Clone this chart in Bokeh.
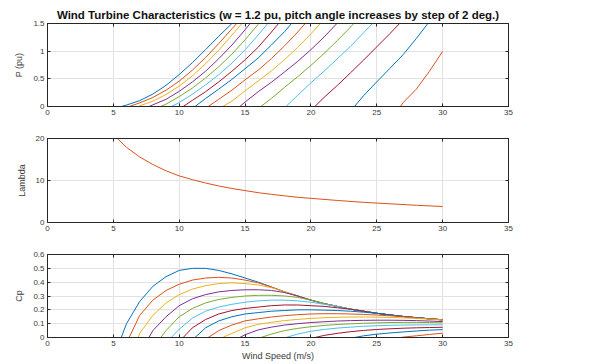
from bokeh.plotting import figure
from bokeh.layouts import column
from bokeh.models import Range1d, FixedTicker, LinearAxis
from bokeh.embed import file_html
from bokeh.resources import INLINE

# ---------------- data ----------------
pitch_deg = [0, 2, 4, 6, 8, 10, 12, 14, 16, 18, 20, 22, 24, 26, 28, 30]

# Cp curves: wind speed where the curve leaves zero, then values at integer speeds up to 30 m/s
cp_start = [5.6, 6.2, 6.9, 7.7, 8.6, 9.4, 10.3, 11.2, 12.2, 13.3, 14.6, 16.2, 18.1, 20.3, 23.3, 26.8]
cp_values = [
    [0.10, 0.26, 0.37, 0.44, 0.485, 0.50, 0.50, 0.485, 0.46, 0.43, 0.40, 0.365, 0.33, 0.30, 0.27,
     0.245, 0.225, 0.205, 0.19, 0.175, 0.163, 0.152, 0.143, 0.135, 0.128],
    [0.16, 0.27, 0.34, 0.385, 0.415, 0.43, 0.435, 0.43, 0.415, 0.395, 0.365, 0.33, 0.30, 0.27,
     0.245, 0.225, 0.205, 0.19, 0.175, 0.163, 0.152, 0.143, 0.135, 0.128],
    [0.03, 0.16, 0.25, 0.31, 0.35, 0.375, 0.39, 0.395, 0.39, 0.38, 0.36, 0.33, 0.30, 0.27,
     0.245, 0.225, 0.205, 0.19, 0.175, 0.163, 0.152, 0.143, 0.135, 0.128],
    [0.05, 0.15, 0.23, 0.28, 0.31, 0.33, 0.34, 0.345, 0.345, 0.34, 0.325, 0.30, 0.27,
     0.245, 0.225, 0.205, 0.19, 0.175, 0.163, 0.152, 0.143, 0.135, 0.128],
    [0.05, 0.15, 0.21, 0.25, 0.275, 0.29, 0.30, 0.305, 0.305, 0.30, 0.29, 0.27,
     0.245, 0.225, 0.205, 0.19, 0.175, 0.163, 0.152, 0.143, 0.135, 0.128],
    [0.06, 0.14, 0.19, 0.22, 0.24, 0.255, 0.265, 0.27, 0.27, 0.265, 0.255, 0.24, 0.225,
     0.205, 0.19, 0.175, 0.163, 0.152, 0.143, 0.135, 0.128],
    [0.07, 0.13, 0.17, 0.195, 0.21, 0.22, 0.23, 0.235, 0.235, 0.23, 0.225, 0.215, 0.205,
     0.19, 0.175, 0.163, 0.152, 0.143, 0.135, 0.128],
    [0.07, 0.12, 0.15, 0.17, 0.18, 0.19, 0.195, 0.20, 0.20, 0.198, 0.195, 0.19, 0.183,
     0.175, 0.163, 0.152, 0.143, 0.135, 0.128],
    [0.05, 0.09, 0.12, 0.135, 0.148, 0.158, 0.165, 0.17, 0.172, 0.172, 0.17, 0.167, 0.162,
     0.157, 0.15, 0.142, 0.134, 0.127],
    [0.03, 0.07, 0.095, 0.11, 0.122, 0.131, 0.138, 0.143, 0.146, 0.148, 0.148, 0.147,
     0.145, 0.142, 0.138, 0.133, 0.126],
    [0.02, 0.055, 0.075, 0.09, 0.10, 0.108, 0.114, 0.119, 0.122, 0.124, 0.125, 0.125,
     0.124, 0.122, 0.119, 0.115],
    [0.025, 0.05, 0.066, 0.078, 0.087, 0.094, 0.099, 0.103, 0.106, 0.108, 0.109, 0.109,
     0.108, 0.106],
    [0.025, 0.045, 0.058, 0.068, 0.075, 0.081, 0.085, 0.088, 0.090, 0.091, 0.092, 0.092],
    [0.015, 0.03, 0.042, 0.051, 0.058, 0.063, 0.067, 0.070, 0.072, 0.074],
    [0.012, 0.024, 0.033, 0.040, 0.047, 0.053, 0.057],
    [0.003, 0.012, 0.022, 0.031],
]

# Power curves (pu): same start speeds, values at integer speeds until they leave the 1.5 pu frame
p_values = [
    [0.026, 0.106, 0.225, 0.382, 0.577, 0.792, 1.028, 1.268, 1.50, 1.727],
    [0.065, 0.164, 0.295, 0.458, 0.657, 0.884, 1.137, 1.404, 1.667],
    [0.012, 0.097, 0.217, 0.369, 0.554, 0.771, 1.019, 1.290, 1.566],
    [0.030, 0.130, 0.274, 0.444, 0.637, 0.863, 1.110, 1.386, 1.682],
    [0.043, 0.179, 0.333, 0.514, 0.719, 0.947, 1.205, 1.487, 1.783],
    [0.071, 0.222, 0.391, 0.575, 0.784, 1.024, 1.292, 1.578],
    [0.111, 0.267, 0.444, 0.637, 0.843, 1.072, 1.345, 1.631],
    [0.144, 0.314, 0.490, 0.683, 0.877, 1.111, 1.353, 1.632],
    [0.131, 0.294, 0.482, 0.658, 0.865, 1.097, 1.347, 1.618],
    [0.098, 0.281, 0.463, 0.643, 0.847, 1.069, 1.314, 1.576],
    [0.080, 0.268, 0.438, 0.625, 0.816, 1.028, 1.256, 1.508],
    [0.146, 0.347, 0.539, 0.743, 0.959, 1.191, 1.434, 1.694],
    [0.204, 0.428, 0.639, 0.862, 1.086, 1.332, 1.580],
    [0.165, 0.380, 0.608, 0.839, 1.078, 1.318, 1.569],
    [0.197, 0.446, 0.690, 0.937, 1.228, 1.538],
    [0.070, 0.313, 0.638, 0.996],
]

# Tip-speed ratio (identical for all pitch angles)
lambda_speed = [5.3, 6, 7, 8, 9, 10, 11, 12, 13, 14, 15, 16, 17, 18, 19, 20, 22, 24, 26, 28, 30]
lambda_values = [20, 17.9, 15.6, 13.8, 12.3, 11.1, 10.2, 9.4, 8.7, 8.1, 7.6, 7.1, 6.7, 6.35, 6.0,
                 5.75, 5.25, 4.8, 4.45, 4.1, 3.8]

x_ticks = [0, 5, 10, 15, 20, 25, 30, 35]
p_ticks = [0, 0.5, 1, 1.5]
p_tick_labels = ["0", "0.5", "1", "1.5"]
lambda_ticks = [0, 10, 20]
lambda_tick_labels = ["0", "10", "20"]
cp_ticks = [0, 0.1, 0.2, 0.3, 0.4, 0.5, 0.6]
cp_tick_labels = ["0", "0.1", "0.2", "0.3", "0.4", "0.5", "0.6"]

title_text = "Wind Turbine Characteristics (w = 1.2 pu, pitch angle increases by step of 2 deg.)"
colors = ["#0072BD", "#D95319", "#EDB120", "#7E2F8E", "#77AC30", "#4DBEEE", "#A2142F"]

FONT = "Liberation Sans"
AX = "#262626"
TXT = "#3a3a3a"
GRID = "#e2e2e2"


def speeds_for(start, n):
    first = int(start) + 1
    return [start] + [first + i for i in range(n)]


def mirror_axis(ticks):
    # tick marks only (box-style ticks on top / right edges), no labels drawn
    ax = LinearAxis(ticker=FixedTicker(ticks=ticks))
    ax.axis_line_color = AX
    ax.major_tick_line_color = AX
    ax.major_tick_in = 3
    ax.major_tick_out = 0
    ax.minor_tick_line_color = None
    ax.major_label_text_color = None
    ax.major_label_text_font_size = "0px"
    ax.major_label_standoff = 0
    return ax


def make_fig(height, top, bottom, yr, yticks, ylabels, ylabel, xlabel=None):
    p = figure(width=602, height=height, x_range=Range1d(0, 35), y_range=Range1d(*yr),
               output_backend="svg", toolbar_location=None,
               min_border_left=47, min_border_right=94,
               min_border_top=top, min_border_bottom=bottom,
               background_fill_color="white", border_fill_color="white")
    p.outline_line_color = AX
    p.outline_line_width = 1
    p.outline_line_alpha = 1.0
    p.xaxis.ticker = FixedTicker(ticks=x_ticks)
    p.yaxis.ticker = FixedTicker(ticks=yticks)
    p.yaxis.major_label_overrides = {t: l for t, l in zip(yticks, ylabels)}
    for ax in (p.xaxis[0], p.yaxis[0]):
        ax.axis_line_color = AX
        ax.major_tick_line_color = AX
        ax.major_tick_in = 3
        ax.major_tick_out = 0
        ax.minor_tick_line_color = None
        ax.major_label_text_font = FONT
        ax.major_label_text_font_size = "8px"
        ax.major_label_text_color = TXT
        ax.major_label_standoff = 3
        ax.axis_label_text_font = FONT
        ax.axis_label_text_font_size = "9px"
        ax.axis_label_text_font_style = "normal"
        ax.axis_label_text_color = TXT
    p.yaxis.axis_label = ylabel
    p.yaxis.axis_label_standoff = 6
    if xlabel:
        p.xaxis.axis_label = xlabel
        p.xaxis.axis_label_standoff = 2
    p.add_layout(mirror_axis(x_ticks), "above")
    p.add_layout(mirror_axis(yticks), "right")
    p.xgrid.grid_line_color = GRID
    p.ygrid.grid_line_color = GRID
    p.xgrid.ticker = FixedTicker(ticks=x_ticks)
    p.ygrid.ticker = FixedTicker(ticks=yticks)
    return p


# --- power
p1 = make_fig(122, 23, 16, (0, 1.5), p_ticks, p_tick_labels, "P (pu)")
p1.title.text = title_text
p1.title.align = "center"
p1.title.text_font = FONT
p1.title.text_font_size = "11.5px"
p1.title.text_font_style = "bold"
p1.title.text_color = "#111111"
p1.title.standoff = 5
for i, (st, vals) in enumerate(zip(cp_start, p_values)):
    p1.line(speeds_for(st, len(vals)), [0] + vals, line_color=colors[i % 7], line_width=1)

# --- lambda
p2 = make_fig(116, 16, 16, (0, 20), lambda_ticks, lambda_tick_labels, "Lambda")
p2.line(lambda_speed, lambda_values, line_color=colors[(len(pitch_deg) - 1) % 7], line_width=1)

# --- cp
p3 = make_fig(126, 16, 27, (0, 0.6), cp_ticks, cp_tick_labels, "Cp", xlabel="Wind Speed (m/s)")
for i, (st, vals) in enumerate(zip(cp_start, cp_values)):
    p3.line(speeds_for(st, len(vals)), [0] + vals, line_color=colors[i % 7], line_width=1)

layout = column(p1, p2, p3, spacing=0)
open("out.html", "w").write(file_html(layout, INLINE))
